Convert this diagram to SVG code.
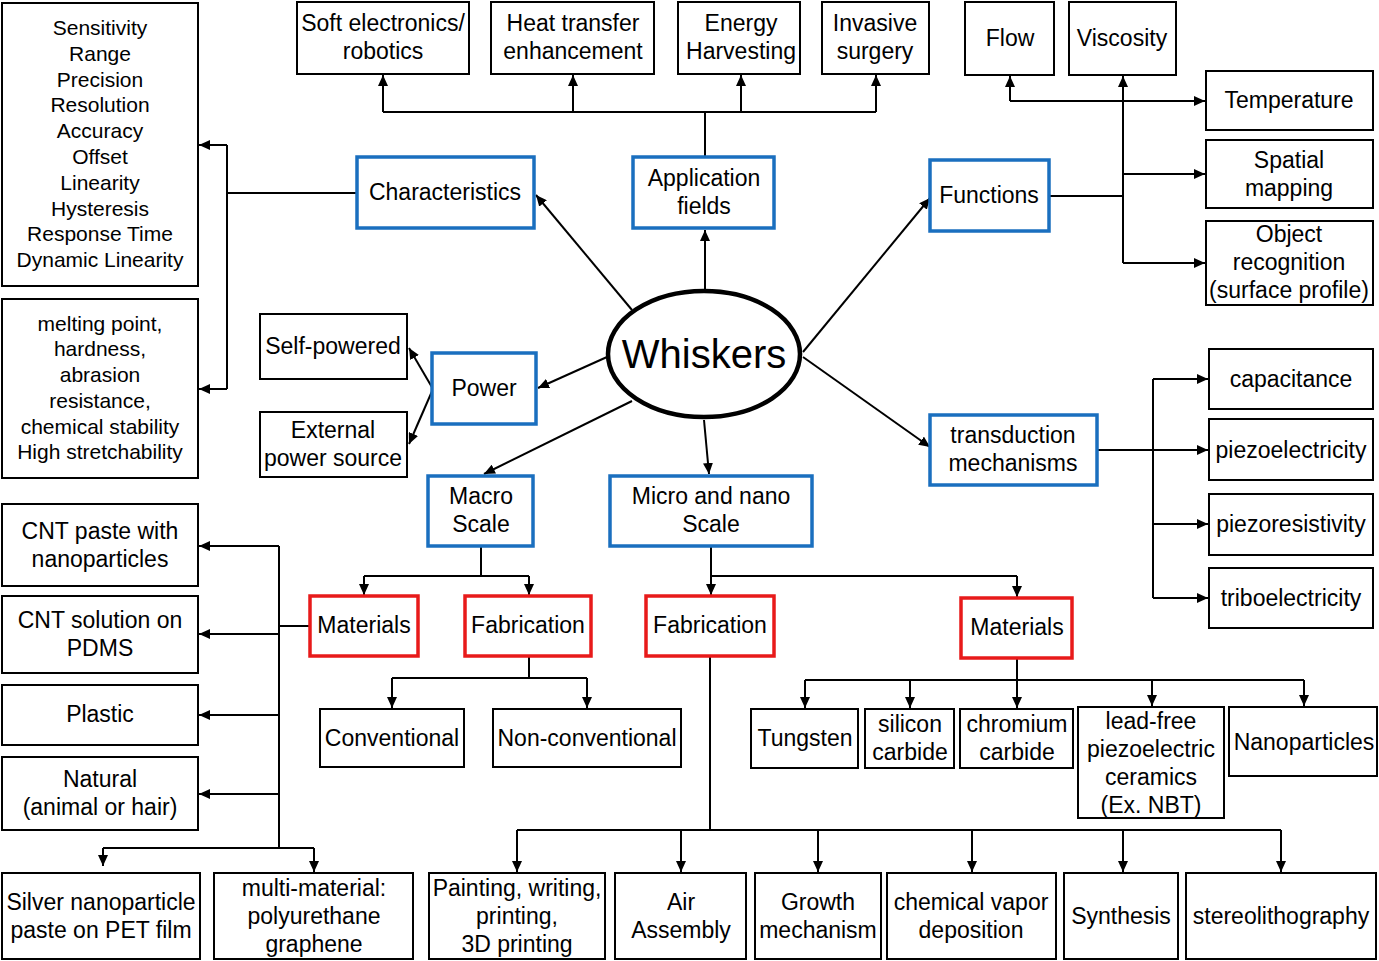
<svg xmlns="http://www.w3.org/2000/svg" width="1379" height="961" viewBox="0 0 1379 961">
<defs>
<marker id="ah" markerUnits="userSpaceOnUse" markerWidth="12" markerHeight="10" refX="11" refY="5" orient="auto">
<path d="M0,0 L11,5 L0,10 z" fill="#000"/>
</marker>
<style>
text{font-family:"Liberation Sans",Arial,sans-serif;font-size:23px;fill:#000;text-anchor:middle}
.sm{font-size:21px}
.big{font-size:40px}
rect{fill:#fff}
.k{stroke:#000;stroke-width:2}
.b{stroke:#1a6fbf;stroke-width:3.5}
.r{stroke:#e81a1a;stroke-width:3.5}
.c path{fill:none;stroke:#000;stroke-width:2}
.c .a{marker-end:url(#ah)}
</style>
</defs>
<rect width="1379" height="961" fill="#fff"/>

<g class="c" id="connectors">
<path d="M357,193 H227 M227,145 V389"/>
<path class="a" d="M227,145 H199"/>
<path class="a" d="M227,389 H199"/>
<path d="M705,157 V112 M383,112 H876"/>
<path class="a" d="M383,112 V75"/>
<path class="a" d="M573,112 V75"/>
<path class="a" d="M741,112 V75"/>
<path class="a" d="M876,112 V75"/>
<path d="M1049,196 H1123"/>
<path class="a" d="M1123,263 V76"/>
<path class="a" d="M1010,101 V76"/>
<path class="a" d="M1010,101 H1205"/>
<path class="a" d="M1123,174 H1205"/>
<path class="a" d="M1123,263 H1205"/>
<path class="a" d="M632,310 L536,195"/>
<path class="a" d="M705,290 V230"/>
<path class="a" d="M803,352 L930,198"/>
<path class="a" d="M803,357 L930,447"/>
<path class="a" d="M607,357 L538,388"/>
<path class="a" d="M632,401 L484,474"/>
<path class="a" d="M704,420 L709,474"/>
<path class="a" d="M433,389 L409,348"/>
<path class="a" d="M433,389 L409,444"/>
<path d="M481,546 V576 M364,576 H529"/>
<path class="a" d="M364,576 V595"/>
<path class="a" d="M529,576 V595"/>
<path d="M310,626 H279 M279,546 V848 M103,848 H314"/>
<path class="a" d="M279,546 H199"/>
<path class="a" d="M279,634 H199"/>
<path class="a" d="M279,715 H199"/>
<path class="a" d="M279,794 H199"/>
<path class="a" d="M103,848 V866"/>
<path class="a" d="M314,848 V872"/>
<path d="M529,656 V678 M392,678 H587"/>
<path class="a" d="M392,678 V708"/>
<path class="a" d="M587,678 V708"/>
<path d="M711,546 V576 H1017"/>
<path class="a" d="M711,576 V595"/>
<path class="a" d="M1017,576 V597"/>
<path d="M710,656 V830 M517,830 H1281"/>
<path class="a" d="M517,830 V872"/>
<path class="a" d="M681,830 V872"/>
<path class="a" d="M818,830 V872"/>
<path class="a" d="M972,830 V872"/>
<path class="a" d="M1123,830 V872"/>
<path class="a" d="M1281,830 V872"/>
<path d="M1017,658 V680 M805,680 H1304"/>
<path class="a" d="M805,680 V708"/>
<path class="a" d="M910,680 V708"/>
<path class="a" d="M1017,680 V708"/>
<path class="a" d="M1152,680 V706"/>
<path class="a" d="M1304,680 V706"/>
<path d="M1097,450 H1153 M1153,379 V598"/>
<path class="a" d="M1153,379 H1208"/>
<path class="a" d="M1153,450 H1208"/>
<path class="a" d="M1153,524 H1208"/>
<path class="a" d="M1153,598 H1208"/>
</g>

<g id="char-list"><rect class="k" x="2" y="3" width="196" height="283"/>
<text class="sm" x="100" y="35">Sensitivity</text>
<text class="sm" x="100" y="61">Range</text>
<text class="sm" x="100" y="87">Precision</text>
<text class="sm" x="100" y="112">Resolution</text>
<text class="sm" x="100" y="138">Accuracy</text>
<text class="sm" x="100" y="164">Offset</text>
<text class="sm" x="100" y="190">Linearity</text>
<text class="sm" x="100" y="216">Hysteresis</text>
<text class="sm" x="100" y="241">Response Time</text>
<text class="sm" x="100" y="267">Dynamic Linearity</text></g>

<g id="props"><rect class="k" x="2" y="299" width="196" height="179"/>
<text class="sm" x="100" y="331">melting point,</text>
<text class="sm" x="100" y="356">hardness,</text>
<text class="sm" x="100" y="382">abrasion</text>
<text class="sm" x="100" y="408">resistance,</text>
<text class="sm" x="100" y="434">chemical stability</text>
<text class="sm" x="100" y="459">High stretchability</text></g>

<g id="soft"><rect class="k" x="297" y="2" width="172" height="72"/><text x="383" y="31">Soft electronics/</text><text x="383" y="59">robotics</text></g>
<g id="heat"><rect class="k" x="491" y="2" width="163" height="72"/><text x="573" y="31">Heat transfer</text><text x="573" y="59">enhancement</text></g>
<g id="energy"><rect class="k" x="678" y="2" width="122" height="72"/><text x="741" y="31">Energy</text><text x="741" y="59">Harvesting</text></g>
<g id="invasive"><rect class="k" x="822" y="2" width="107" height="72"/><text x="875" y="31">Invasive</text><text x="875" y="59">surgery</text></g>
<g id="flow"><rect class="k" x="965" y="2" width="89" height="73"/><text x="1010" y="46">Flow</text></g>
<g id="viscosity"><rect class="k" x="1069" y="2" width="107" height="73"/><text x="1122" y="46">Viscosity</text></g>
<g id="temperature"><rect class="k" x="1206" y="71" width="167" height="59"/><text x="1289" y="108">Temperature</text></g>
<g id="spatial"><rect class="k" x="1206" y="140" width="167" height="68"/><text x="1289" y="168">Spatial</text><text x="1289" y="196">mapping</text></g>
<g id="object"><rect class="k" x="1206" y="221" width="167" height="84"/><text x="1289" y="242">Object</text><text x="1289" y="270">recognition</text><text x="1289" y="298">(surface profile)</text></g>

<g id="characteristics"><rect class="b" x="357" y="157" width="177" height="71"/><text x="445" y="200">Characteristics</text></g>
<g id="application"><rect class="b" x="633" y="157" width="141" height="71"/><text x="704" y="186">Application</text><text x="704" y="214">fields</text></g>
<g id="functions"><rect class="b" x="930" y="160" width="119" height="71"/><text x="989" y="203">Functions</text></g>

<g id="whiskers"><ellipse cx="704" cy="354" rx="96" ry="63" fill="#fff" stroke="#000" stroke-width="4.5"/><text class="big" x="704" y="368">Whiskers</text></g>

<g id="selfpowered"><rect class="k" x="260" y="314" width="147" height="65"/><text x="333" y="354">Self-powered</text></g>
<g id="external"><rect class="k" x="260" y="412" width="147" height="65"/><text x="333" y="438">External</text><text x="333" y="466">power source</text></g>
<g id="power"><rect class="b" x="432" y="353" width="104" height="71"/><text x="484" y="396">Power</text></g>

<g id="macro"><rect class="b" x="428" y="476" width="105" height="70"/><text x="481" y="504">Macro</text><text x="481" y="532">Scale</text></g>
<g id="micro"><rect class="b" x="610" y="476" width="202" height="70"/><text x="711" y="504">Micro and nano</text><text x="711" y="532">Scale</text></g>
<g id="transduction"><rect class="b" x="930" y="415" width="167" height="70"/><text x="1013" y="443">transduction</text><text x="1013" y="471">mechanisms</text></g>

<g id="capacitance"><rect class="k" x="1209" y="349" width="164" height="60"/><text x="1291" y="387">capacitance</text></g>
<g id="piezoelectricity"><rect class="k" x="1209" y="419" width="164" height="61"/><text x="1291" y="458">piezoelectricity</text></g>
<g id="piezoresistivity"><rect class="k" x="1209" y="494" width="164" height="61"/><text x="1291" y="532">piezoresistivity</text></g>
<g id="triboelectricity"><rect class="k" x="1209" y="568" width="164" height="60"/><text x="1291" y="606">triboelectricity</text></g>

<g id="cntpaste"><rect class="k" x="2" y="504" width="196" height="82"/><text x="100" y="539">CNT paste with</text><text x="100" y="567">nanoparticles</text></g>
<g id="cntsolution"><rect class="k" x="2" y="596" width="196" height="77"/><text x="100" y="628">CNT solution on</text><text x="100" y="656">PDMS</text></g>
<g id="plastic"><rect class="k" x="2" y="685" width="196" height="60"/><text x="100" y="722">Plastic</text></g>
<g id="natural"><rect class="k" x="2" y="757" width="196" height="73"/><text x="100" y="787">Natural</text><text x="100" y="815">(animal or hair)</text></g>

<g id="materials-macro"><rect class="r" x="310" y="596" width="108" height="60"/><text x="364" y="633">Materials</text></g>
<g id="fab-macro"><rect class="r" x="465" y="596" width="126" height="60"/><text x="528" y="633">Fabrication</text></g>
<g id="fab-micro"><rect class="r" x="646" y="596" width="128" height="60"/><text x="710" y="633">Fabrication</text></g>
<g id="materials-micro"><rect class="r" x="961" y="598" width="111" height="60"/><text x="1017" y="635">Materials</text></g>

<g id="conventional"><rect class="k" x="320" y="709" width="144" height="58"/><text x="392" y="746">Conventional</text></g>
<g id="nonconventional"><rect class="k" x="493" y="709" width="188" height="58"/><text x="587" y="746">Non-conventional</text></g>

<g id="tungsten"><rect class="k" x="751" y="709" width="107" height="59"/><text x="805" y="746">Tungsten</text></g>
<g id="sic"><rect class="k" x="865" y="709" width="89" height="59"/><text x="910" y="732">silicon</text><text x="910" y="760">carbide</text></g>
<g id="crc"><rect class="k" x="960" y="709" width="113" height="59"/><text x="1017" y="732">chromium</text><text x="1017" y="760">carbide</text></g>
<g id="leadfree"><rect class="k" x="1078" y="707" width="146" height="111"/><text x="1151" y="729">lead-free</text><text x="1151" y="757">piezoelectric</text><text x="1151" y="785">ceramics</text><text x="1151" y="813">(Ex. NBT)</text></g>
<g id="nanoparticles"><rect class="k" x="1229" y="707" width="148" height="69"/><text x="1304" y="750">Nanoparticles</text></g>

<g id="silver"><rect class="k" x="2" y="873" width="198" height="86"/><text x="101" y="910">Silver nanoparticle</text><text x="101" y="938">paste on PET film</text></g>
<g id="multi"><rect class="k" x="214" y="873" width="199" height="86"/><text x="314" y="896">multi-material:</text><text x="314" y="924">polyurethane</text><text x="314" y="952">graphene</text></g>
<g id="painting"><rect class="k" x="429" y="873" width="176" height="86"/><text x="517" y="896">Painting, writing,</text><text x="517" y="924">printing,</text><text x="517" y="952">3D printing</text></g>
<g id="air"><rect class="k" x="615" y="873" width="131" height="86"/><text x="681" y="910">Air</text><text x="681" y="938">Assembly</text></g>
<g id="growth"><rect class="k" x="755" y="873" width="126" height="86"/><text x="818" y="910">Growth</text><text x="818" y="938">mechanism</text></g>
<g id="cvd"><rect class="k" x="887" y="873" width="169" height="86"/><text x="971" y="910">chemical vapor</text><text x="971" y="938">deposition</text></g>
<g id="synthesis"><rect class="k" x="1064" y="873" width="114" height="86"/><text x="1121" y="924">Synthesis</text></g>
<g id="stereo"><rect class="k" x="1186" y="873" width="190" height="86"/><text x="1281" y="924">stereolithography</text></g>
</svg>
